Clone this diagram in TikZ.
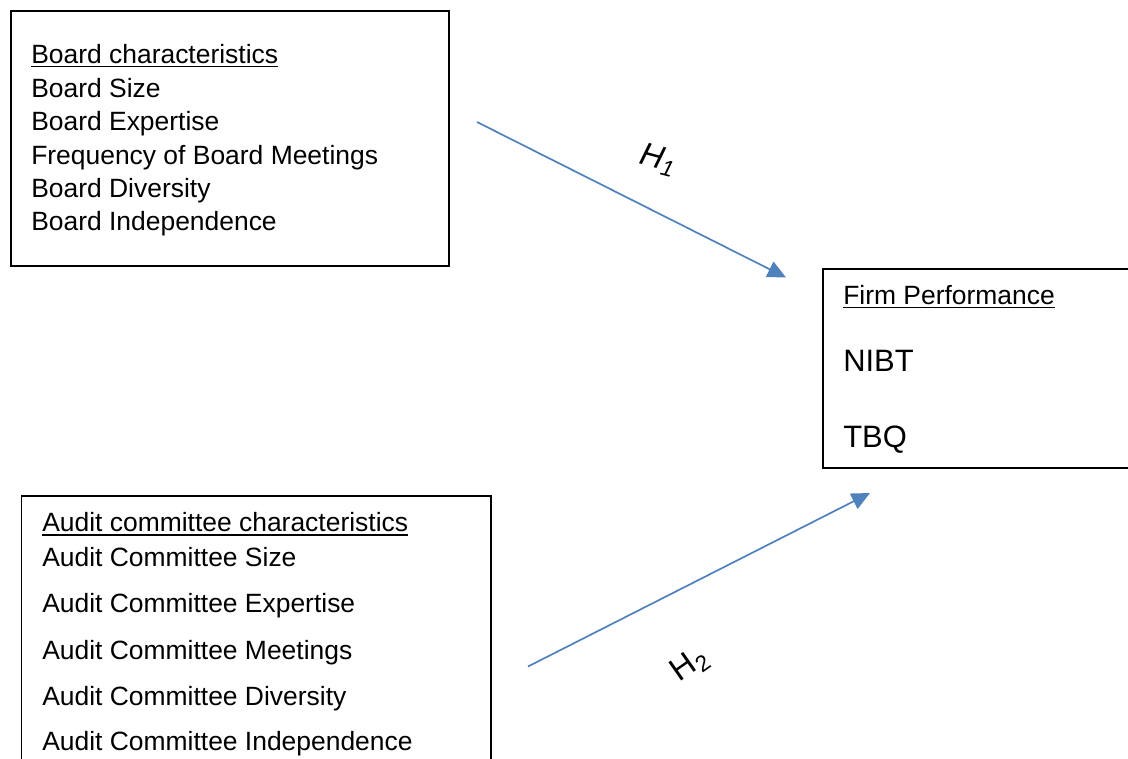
\documentclass[tikz,border=0pt]{standalone}
\usepackage{fontspec}
\setmainfont{Liberation Sans}
\usetikzlibrary{arrows.meta,positioning,calc}
\usepackage{xcolor}
\definecolor{linkblue}{RGB}{79,129,189}

% underlined heading with a heavier rule
\newcommand{\ulhead}[1]{\setbox0\hbox{#1}\rlap{\rule[-3pt]{\wd0}{1pt}}\box0}

\tikzset{
  varbox/.style={draw, line width=1.2pt, anchor=north west, inner sep=0pt},
  item/.style={anchor=base west, inner sep=0pt, font=\fontsize{18.8}{22}\selectfont},
  bigitem/.style={anchor=base west, inner sep=0pt, font=\fontsize{22}{26}\selectfont},
  hyp/.style={inner sep=0pt, font=\fontsize{23}{26}\selectfont},
  link/.style={linkblue, line width=1.2pt, -{Triangle[length=13pt,width=12pt]}}
}

\begin{document}
\begin{tikzpicture}[x=0.025cm, y=-0.025cm]
                \useasboundingbox[fill=white] (0,0) rectangle (1128,758);
                \clip (0,0) rectangle (1128,758);

                % Board box
                \node[varbox, minimum width=10.95cm, minimum height=6.375cm] (board) at (10,10) {};
                \node[item] (b0) at (31,63) {\ulhead{Board characteristics}};
                \node[item] (b1) at (31,97) {Board Size};
                \node[item] (b2) at (31,130.5) {Board Expertise};
                \node[item] (b3) at (31,164) {Frequency of Board Meetings};
                \node[item] (b4) at (31,197) {Board Diversity};
                \node[item] (b5) at (31,230.5) {Board Independence};

                % Firm performance box (runs off the right edge)
                \node[varbox, minimum width=7.95cm, minimum height=4.975cm] (firm) at (822,268) {};
                \node[item] (f0) at (843,304) {\ulhead{Firm Performance}};
                \node[bigitem] (f1) at (843,371) {NIBT};
                \node[bigitem] (f2) at (843,447) {TBQ};

                % Audit committee box (runs off the bottom edge)
                \node[varbox, minimum width=11.74cm, minimum height=6.9cm] (audit) at (20.5,495) {};
                \node[item] (a0) at (42,531.5) {\ulhead{Audit committee characteristics}};
                \node[item] (a1) at (42,566.5) {Audit Committee Size};
                \node[item] (a2) at (42,612.5) {Audit Committee Expertise};
                \node[item] (a3) at (42,659) {Audit Committee Meetings};
                \node[item] (a4) at (42,705) {Audit Committee Diversity};
                \node[item] (a5) at (42,750.5) {Audit Committee Independence};

                % Hypotheses
                \coordinate (h1from) at (477,122);
                \coordinate (h1to) at (786,277.5);
                \draw[link] (h1from) -- (h1to);
                \node[hyp, rotate=-15] (h1) at (658,160) {\textit{H\textsubscript{1}}};

                \coordinate (h2from) at (528,666.5);
                \coordinate (h2to) at (870,493);
                \draw[link] (h2from) -- (h2to);
                \node[hyp, rotate=35] (h2) at (690,665) {H\textsubscript{2}};
            \end{tikzpicture}
\end{document}
